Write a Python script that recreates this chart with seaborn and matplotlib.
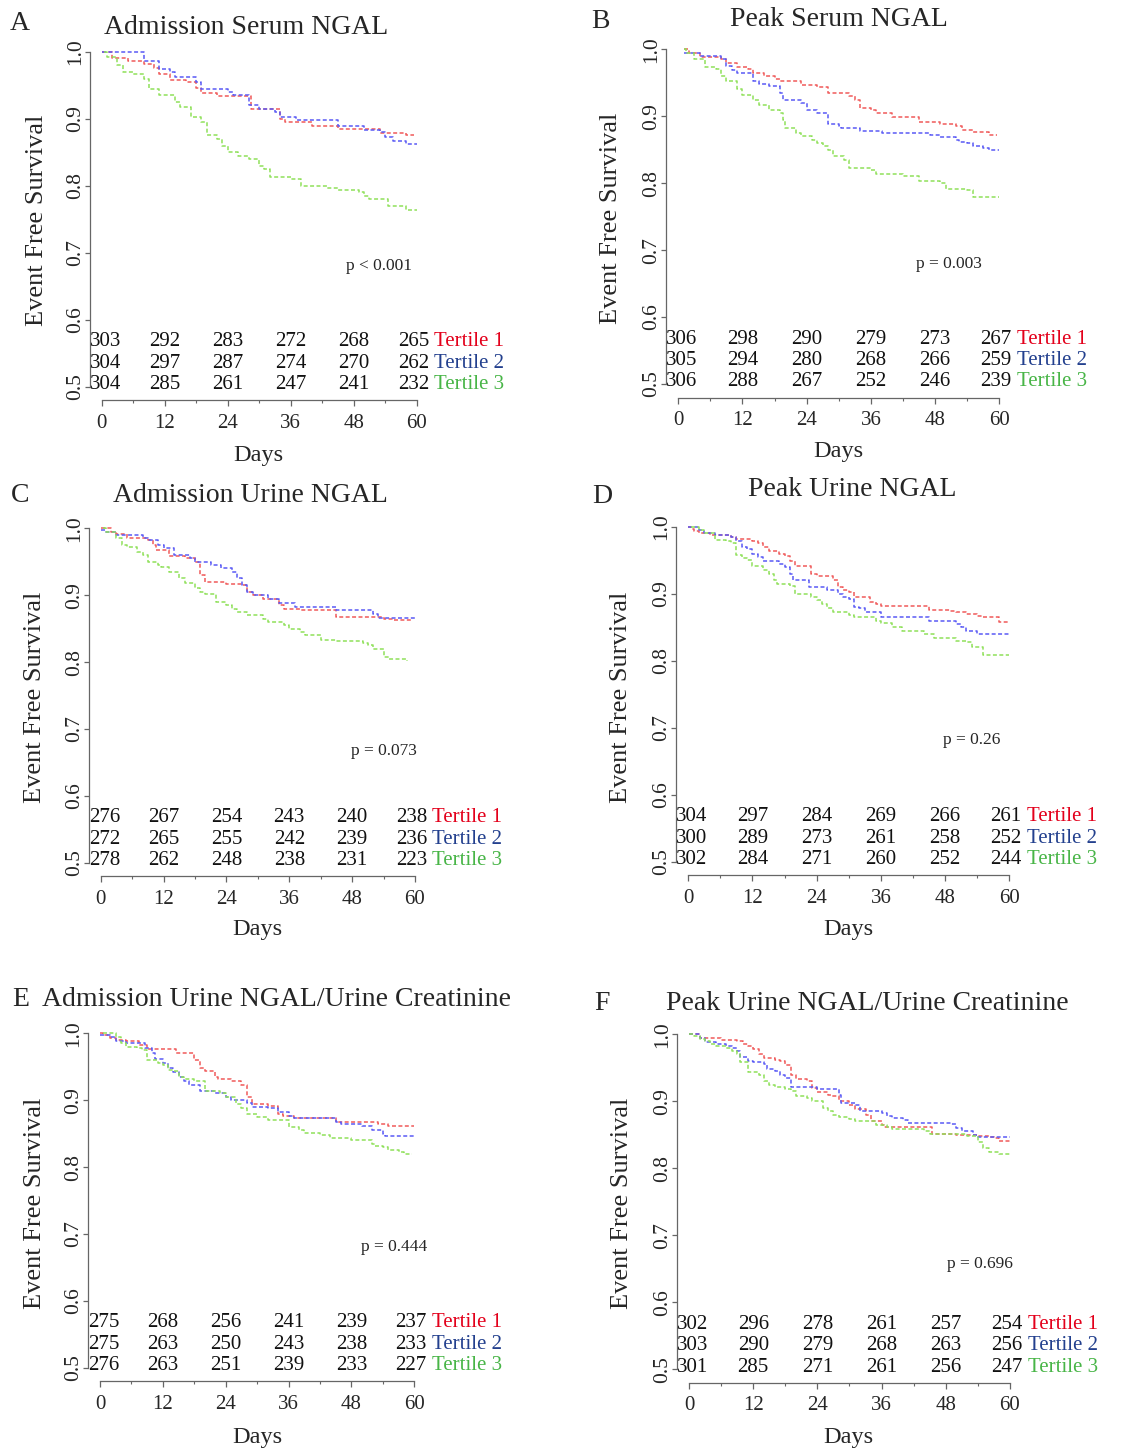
import matplotlib.pyplot as plt
import numpy as np
import pandas as pd
import seaborn as sns

sns.set_style('ticks')
plt.rcParams['font.family'] = ['Liberation Serif', 'DejaVu Serif']

# ---- data (day, event free survival) ----
titles = ['Admission Serum NGAL', 'Peak Serum NGAL', 'Admission Urine NGAL',
          'Peak Urine NGAL', 'Admission Urine NGAL/Urine Creatinine',
          'Peak Urine NGAL/Urine Creatinine']
letters = ['A', 'B', 'C', 'D', 'E', 'F']
pvals = ['p < 0.001', 'p = 0.003', 'p = 0.073', 'p = 0.26', 'p = 0.444', 'p = 0.696']
tertiles = ['Tertile 1', 'Tertile 2', 'Tertile 3']
risk_days = [0, 12, 24, 36, 48, 60]

# A
a1_day = [0, 2, 5, 8, 10, 11, 13, 16, 18, 19, 22, 28.5, 34, 35, 40, 45, 53, 58, 59.5]
a1_surv = [1.0, 0.99, 0.986, 0.981, 0.975, 0.966, 0.958, 0.955, 0.946, 0.939, 0.934, 0.915, 0.90, 0.895, 0.889, 0.885, 0.878, 0.875, 0.875]
a2_day = [0, 8, 11, 13, 14, 18, 19, 24, 25, 28, 30, 33, 34, 37, 45, 50, 53, 54, 55.5, 58, 60]
a2_surv = [1.0, 0.986, 0.974, 0.97, 0.962, 0.955, 0.944, 0.94, 0.935, 0.92, 0.915, 0.91, 0.902, 0.898, 0.889, 0.883, 0.88, 0.873, 0.866, 0.862, 0.862]
a3_day = [0.5, 1, 3, 4, 6, 8, 9, 11, 14, 15, 17, 19, 20, 22, 23, 24, 26, 28, 30, 31, 32, 36, 38, 43, 45, 49, 50, 51, 54.5, 58, 60]
a3_surv = [1.0, 0.992, 0.98, 0.97, 0.966, 0.96, 0.945, 0.935, 0.925, 0.918, 0.903, 0.895, 0.876, 0.87, 0.86, 0.85, 0.845, 0.84, 0.83, 0.825, 0.813, 0.81, 0.80, 0.797, 0.794, 0.79, 0.785, 0.78, 0.769, 0.764, 0.764]
risk_a = [[303, 292, 283, 272, 268, 265], [304, 297, 287, 274, 270, 262], [304, 285, 261, 247, 241, 232]]

# B
b1_day = [1, 2, 4, 8, 9, 11, 13, 14, 16, 18, 19, 23, 26, 28, 32, 33, 34, 36, 37, 40, 45, 49, 52, 53, 55, 58, 59.5]
b1_surv = [1.0, 0.995, 0.989, 0.985, 0.98, 0.974, 0.97, 0.965, 0.96, 0.955, 0.952, 0.947, 0.944, 0.934, 0.93, 0.925, 0.912, 0.91, 0.905, 0.899, 0.892, 0.888, 0.885, 0.88, 0.876, 0.872, 0.872]
b2_day = [1, 4, 8, 9, 10, 11, 14, 15, 17, 19, 19.5, 23, 24, 26, 28, 30, 30.5, 34, 38, 47, 49, 52, 52.5, 54, 55, 57, 58, 60]
b2_surv = [0.995, 0.99, 0.985, 0.975, 0.969, 0.964, 0.952, 0.948, 0.945, 0.935, 0.924, 0.92, 0.909, 0.905, 0.888, 0.885, 0.882, 0.878, 0.875, 0.872, 0.869, 0.865, 0.862, 0.86, 0.855, 0.852, 0.849, 0.849]
b3_day = [1, 1.5, 3, 5, 7, 8, 9, 11, 12, 14, 15, 17, 19, 19.5, 20, 22, 23, 25, 26, 27, 28, 29, 31, 32, 36, 37, 42, 45, 49, 50, 54, 55, 60]
b3_surv = [1.0, 0.995, 0.985, 0.974, 0.97, 0.96, 0.952, 0.94, 0.932, 0.925, 0.917, 0.909, 0.905, 0.895, 0.883, 0.875, 0.871, 0.865, 0.86, 0.855, 0.85, 0.84, 0.835, 0.822, 0.82, 0.814, 0.81, 0.804, 0.80, 0.792, 0.79, 0.78, 0.78]
risk_b = [[306, 298, 290, 279, 273, 267], [305, 294, 280, 268, 266, 259], [306, 288, 267, 252, 246, 239]]

# C
c1_day = [0, 2, 3, 5, 9, 10, 10.5, 13, 16, 18, 19, 20, 24, 27, 28, 29, 31, 34, 35, 38, 45, 54, 56, 59.5]
c1_surv = [1.0, 0.995, 0.992, 0.986, 0.982, 0.975, 0.968, 0.959, 0.955, 0.95, 0.93, 0.92, 0.917, 0.915, 0.905, 0.90, 0.894, 0.885, 0.88, 0.878, 0.868, 0.865, 0.863, 0.863]
c2_day = [0, 1, 3, 8, 9, 11, 12, 14, 17, 18, 21, 23, 25, 26, 27, 28, 29, 32, 34, 37, 45, 52, 53, 60]
c2_surv = [0.998, 0.995, 0.99, 0.985, 0.982, 0.975, 0.971, 0.96, 0.955, 0.949, 0.945, 0.94, 0.935, 0.925, 0.915, 0.905, 0.90, 0.895, 0.889, 0.883, 0.878, 0.872, 0.866, 0.866]
c3_day = [0.5, 1, 3, 4, 5, 7, 8, 9, 11, 11.5, 13, 15, 16, 18, 19, 20, 22, 24, 25, 26, 28, 31, 32, 35, 36, 38, 39, 42, 45, 50, 51, 52, 54, 55, 58.5]
c3_surv = [1.0, 0.995, 0.985, 0.975, 0.972, 0.965, 0.96, 0.95, 0.945, 0.942, 0.935, 0.925, 0.918, 0.91, 0.905, 0.902, 0.89, 0.885, 0.88, 0.875, 0.87, 0.865, 0.86, 0.855, 0.85, 0.845, 0.84, 0.833, 0.832, 0.828, 0.825, 0.82, 0.808, 0.804, 0.802]
risk_c = [[276, 267, 254, 243, 240, 238], [272, 265, 255, 242, 239, 236], [278, 262, 248, 238, 231, 223]]

# D
d1_day = [0, 0.5, 1, 2, 4, 8, 9, 12, 13, 14, 15, 17, 18, 19, 20, 23, 24, 27, 28, 29, 30, 31, 34, 35, 36, 45, 49, 50, 52, 54, 55, 58, 60]
d1_surv = [1.0, 0.997, 0.993, 0.991, 0.988, 0.985, 0.981, 0.978, 0.976, 0.97, 0.964, 0.96, 0.957, 0.949, 0.942, 0.93, 0.926, 0.921, 0.91, 0.905, 0.902, 0.895, 0.888, 0.884, 0.881, 0.876, 0.874, 0.872, 0.869, 0.866, 0.865, 0.858, 0.858]
d2_day = [0, 2, 3, 5, 8, 9, 10, 11, 12, 13, 14, 17, 18, 19, 19.5, 22.5, 26, 28, 29, 30, 31, 32, 33, 36, 45, 50, 51, 52, 54, 60]
d2_surv = [1.0, 0.995, 0.99, 0.987, 0.985, 0.978, 0.97, 0.967, 0.96, 0.955, 0.949, 0.945, 0.94, 0.93, 0.92, 0.91, 0.905, 0.899, 0.895, 0.892, 0.88, 0.878, 0.872, 0.865, 0.86, 0.855, 0.85, 0.845, 0.84, 0.84]
d3_day = [0.5, 2, 3, 5, 7, 8, 9, 10, 11, 12, 14, 15, 16, 16.5, 19, 20, 23, 24, 25, 26, 27, 30, 31, 35, 36, 38, 40, 44, 46, 50, 52, 53, 55, 60]
d3_surv = [1.0, 0.995, 0.99, 0.98, 0.978, 0.975, 0.958, 0.954, 0.95, 0.941, 0.935, 0.93, 0.92, 0.915, 0.911, 0.90, 0.895, 0.89, 0.884, 0.878, 0.872, 0.868, 0.865, 0.86, 0.857, 0.85, 0.844, 0.84, 0.834, 0.83, 0.828, 0.82, 0.808, 0.808]
risk_d = [[304, 297, 284, 269, 266, 261], [300, 289, 273, 261, 258, 252], [302, 284, 271, 260, 252, 244]]

# E
e1_day = [0, 0.5, 2, 3, 5, 7.5, 9, 14.5, 18, 19, 20, 22, 22.5, 25, 27, 28, 29, 32, 34, 35, 37, 45, 53, 55, 60]
e1_surv = [1.0, 0.997, 0.993, 0.99, 0.988, 0.982, 0.976, 0.971, 0.96, 0.948, 0.943, 0.935, 0.931, 0.928, 0.923, 0.905, 0.895, 0.891, 0.88, 0.877, 0.873, 0.868, 0.865, 0.861, 0.861]
e2_day = [0, 2, 3, 5, 8, 8.5, 10, 10.5, 12, 13, 14, 15, 16, 17, 19, 22, 24, 25, 28, 29, 32, 34, 36, 37, 45, 46, 50, 52, 54, 54.5, 60]
e2_surv = [0.998, 0.994, 0.989, 0.986, 0.985, 0.978, 0.97, 0.961, 0.955, 0.948, 0.942, 0.935, 0.928, 0.922, 0.913, 0.91, 0.905, 0.90, 0.896, 0.89, 0.888, 0.883, 0.877, 0.874, 0.868, 0.865, 0.862, 0.855, 0.85, 0.846, 0.846]
e3_day = [0.5, 3, 4, 5, 7, 8, 9, 11, 12, 13, 14, 15, 16, 18, 20, 23, 24, 26, 27, 28, 30, 32, 36, 38, 39, 42, 44, 48, 52, 52.5, 54, 55, 57, 58, 59.5]
e3_surv = [1.0, 0.995, 0.985, 0.98, 0.978, 0.975, 0.96, 0.955, 0.952, 0.945, 0.943, 0.935, 0.931, 0.928, 0.913, 0.91, 0.905, 0.895, 0.888, 0.88, 0.875, 0.87, 0.86, 0.855, 0.851, 0.848, 0.843, 0.84, 0.835, 0.832, 0.83, 0.826, 0.822, 0.82, 0.82]
risk_e = [[275, 268, 256, 241, 239, 237], [275, 263, 250, 243, 238, 233], [276, 263, 251, 239, 233, 227]]

# F
f1_day = [0, 2, 4, 6, 9, 10, 11, 12, 13, 14, 16, 17, 18, 19, 20, 22, 23, 24, 26, 26.5, 28, 30, 31, 33, 34, 36, 36.5, 45.5, 50, 54, 56, 57, 58, 60]
f1_surv = [1.0, 0.995, 0.994, 0.992, 0.99, 0.985, 0.982, 0.978, 0.97, 0.964, 0.962, 0.96, 0.954, 0.94, 0.934, 0.93, 0.92, 0.914, 0.91, 0.908, 0.901, 0.895, 0.889, 0.88, 0.87, 0.865, 0.861, 0.851, 0.849, 0.848, 0.847, 0.845, 0.841, 0.841]
f2_day = [0, 2, 3, 5, 7, 8, 9, 9.5, 11, 12, 14, 14.5, 16, 17, 18, 19, 24, 28, 28.5, 31, 32, 36, 37, 38, 40, 41, 49, 50, 51, 53, 54, 55, 60]
f2_surv = [1.0, 0.995, 0.989, 0.985, 0.982, 0.98, 0.975, 0.966, 0.96, 0.958, 0.955, 0.948, 0.945, 0.94, 0.935, 0.922, 0.918, 0.91, 0.898, 0.894, 0.886, 0.883, 0.878, 0.875, 0.872, 0.868, 0.866, 0.86, 0.855, 0.85, 0.847, 0.846, 0.846]
f3_day = [0, 1, 2, 3, 4, 5, 7, 8, 9, 9.5, 11, 13, 14, 15, 16, 18, 19, 20, 22, 23, 25, 26, 27, 28, 30, 31, 33, 35, 37, 38, 44, 45, 52, 54, 55, 56, 58, 60]
f3_surv = [1.0, 0.998, 0.993, 0.99, 0.985, 0.982, 0.98, 0.975, 0.97, 0.959, 0.944, 0.94, 0.93, 0.925, 0.921, 0.918, 0.915, 0.908, 0.905, 0.90, 0.89, 0.885, 0.88, 0.876, 0.873, 0.871, 0.87, 0.865, 0.862, 0.859, 0.855, 0.851, 0.848, 0.84, 0.83, 0.825, 0.821, 0.821]
risk_f = [[302, 296, 278, 261, 257, 254], [303, 290, 279, 268, 263, 256], [301, 285, 271, 261, 256, 247]]

curves = [
    [(a1_day, a1_surv), (a2_day, a2_surv), (a3_day, a3_surv)],
    [(b1_day, b1_surv), (b2_day, b2_surv), (b3_day, b3_surv)],
    [(c1_day, c1_surv), (c2_day, c2_surv), (c3_day, c3_surv)],
    [(d1_day, d1_surv), (d2_day, d2_surv), (d3_day, d3_surv)],
    [(e1_day, e1_surv), (e2_day, e2_surv), (e3_day, e3_surv)],
    [(f1_day, f1_surv), (f2_day, f2_surv), (f3_day, f3_surv)],
]
risks = [risk_a, risk_b, risk_c, risk_d, risk_e, risk_f]

line_cols = ['#f05a5a', '#5a5af5', '#8fe05a']
text_cols = ['#e3001b', '#23408e', '#48b547']

# ---- layout, in pixels of the 1147x1450 image ----
W, H = 1147, 1450
# day0 x, day60 x, y=1.0 px, y=0.5 px
boxes = [(101.7, 416.7, 51.7, 386.7), (678.3, 999.3, 49.3, 384.0),
         (100.7, 415.0, 528.3, 862.7), (688.3, 1009.3, 526.7, 861.7),
         (100.0, 414.3, 1033.3, 1367.7), (689.0, 1010.0, 1034.3, 1369.3)]
letter_xy = [(20, 24), (600, 22), (20, 495), (602, 497), (21, 1000), (602, 1003)]
title_xy = [(246, 28), (839, 20), (250, 495), (852, 490), (277, 1000), (867, 1003)]
ylab_xy = [(37, 220), (611, 218), (35, 697), (621, 697), (35, 1203), (622, 1203)]
days_xy = [(258, 455), (838, 452), (257, 930), (848, 930), (257, 1437), (848, 1438)]
p_xy = [(52.8, 0.68), (50.5, 0.68), (54, 0.667), (53, 0.682), (56.2, 0.681), (54.3, 0.657)]
risk_x = [0.7, 12, 24, 36, 48, 59.4]
risk_y = [0.567, 0.535, 0.503]

XLO, XHI = -2.3, 60.5
YLO, YHI = 0.495, 1.005

fig = plt.figure(figsize=(W / 100, H / 100), dpi=100)

for i in range(6):
    x0, x60, y1, y05 = boxes[i]
    sx = (x60 - x0) / 60
    sy = (y05 - y1) / 0.5
    left = x0 + XLO * sx
    right = x0 + XHI * sx
    top = y1 - (YHI - 1.0) * sy
    bot = y05 + (0.5 - YLO) * sy
    ax = fig.add_axes([left / W, 1 - bot / H, (right - left) / W, (bot - top) / H])

    rows = []
    for t, (dd, ss) in zip(tertiles, curves[i]):
        rows.append(pd.DataFrame({'day': dd, 'surv': ss, 'tertile': t}))
    df = pd.concat(rows, ignore_index=True)
    sns.lineplot(data=df, x='day', y='surv', hue='tertile', hue_order=tertiles,
                 palette=line_cols, estimator=None, drawstyle='steps-post',
                 linestyle=(0, (2.6, 1.6)), linewidth=1.1, legend=False, ax=ax)

    ax.set_xlim(XLO, XHI)
    ax.set_ylim(YLO, YHI)
    ax.set_xlabel('')
    ax.set_ylabel('')
    for s in ['top', 'right']:
        ax.spines[s].set_visible(False)
    ax.spines['left'].set_bounds(0.5, 1.0)
    ax.spines['bottom'].set_bounds(0, 60)
    ax.spines['bottom'].set_position(('outward', 7.5))
    for s in ['left', 'bottom']:
        ax.spines[s].set_color('#666666')
        ax.spines[s].set_linewidth(0.9)

    ax.set_xticks(risk_days)
    ax.set_xticks([6, 18, 30, 42, 54], minor=True)
    ax.set_yticks([0.5, 0.6, 0.7, 0.8, 0.9, 1.0])
    ax.set_yticklabels(['0.5', '0.6', '0.7', '0.8', '0.9', '1.0'])
    ax.tick_params(axis='x', which='major', length=4.5, width=0.9, color='#666666',
                   labelsize=15, pad=5)
    ax.tick_params(axis='x', which='minor', length=2, width=0.8, color='#666666')
    ax.tick_params(axis='y', length=3.5, width=0.9, color='#666666',
                   labelsize=15.5, pad=0, labelrotation=90)
    for lab in ax.get_yticklabels():
        lab.set_va('center')

    # numbers at risk
    for r in range(3):
        for c in range(6):
            ax.text(risk_x[c], risk_y[r], str(risks[i][r][c]), ha='center', va='center',
                    fontsize=15, color='#111111')
        ax.text(63.3, risk_y[r], tertiles[r], ha='left', va='center',
                fontsize=15, color=text_cols[r])

    ax.text(p_xy[i][0], p_xy[i][1], pvals[i], ha='center', va='center', fontsize=12.5)

    fig.text(letter_xy[i][0] / W, 1 - letter_xy[i][1] / H, letters[i],
             ha='center', va='center', fontsize=20)
    fig.text(title_xy[i][0] / W, 1 - title_xy[i][1] / H, titles[i],
             ha='center', va='center', fontsize=20)
    fig.text(ylab_xy[i][0] / W, 1 - ylab_xy[i][1] / H, 'Event Free Survival',
             ha='center', va='center', rotation=90, fontsize=19)
    fig.text(days_xy[i][0] / W, 1 - days_xy[i][1] / H, 'Days',
             ha='center', va='center', fontsize=17.5)

fig.savefig('out.png', dpi=100)
